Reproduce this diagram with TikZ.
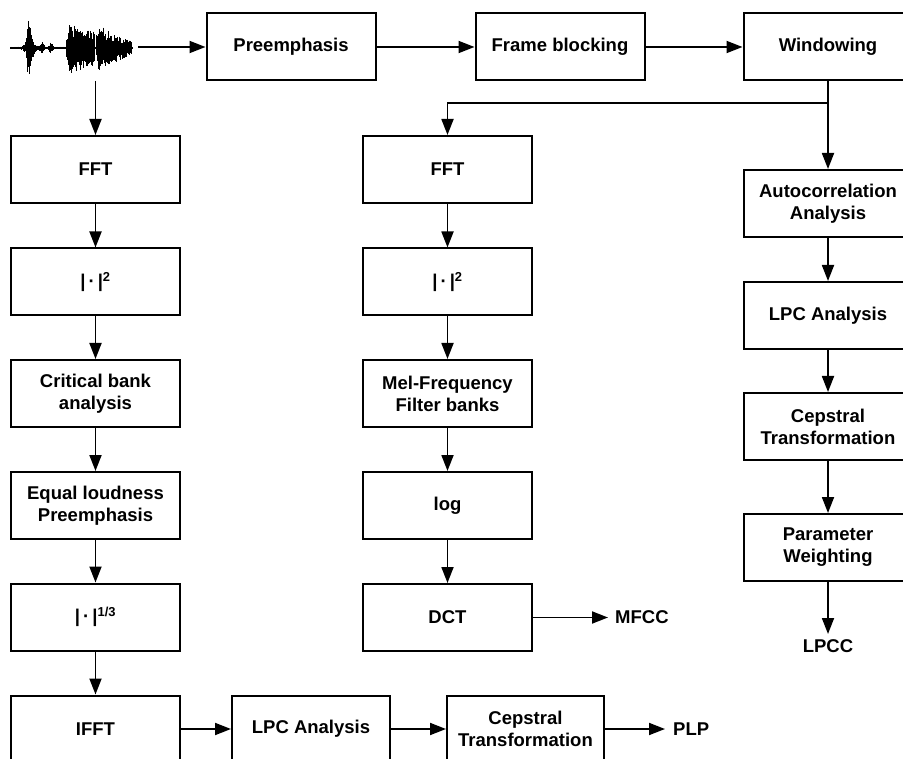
\documentclass[tikz,border=0pt]{standalone}
\usepackage{fontspec}
\setmainfont{Liberation Sans}
\usetikzlibrary{arrows.meta}
\begin{document}
\begin{tikzpicture}[x=1pt,y=-1pt,
  box/.style={draw, line width=2pt, fill=white, minimum width=169pt, minimum height=67pt,
    align=center, inner sep=0pt, font=\fontsize{18.5}{22}\selectfont\bfseries},
  lbl/.style={font=\fontsize{18.5}{22}\selectfont\bfseries, inner sep=0pt},
  flow/.style={line width=1.8pt, -{Triangle[length=16pt,width=12pt]}},
  link/.style={line width=1.8pt}]
\useasboundingbox (0,0) rectangle (903,759);
\clip (0,0) rectangle (903,759);

% speech waveform: three voiced bursts on a quiet baseline
\pgfmathsetseed{11}
\draw[line width=1.5pt] (10,48) -- (133,48);
\foreach \x in {11,11.6,...,132}{
  \pgfmathsetmacro\amp{1.5+24*exp(-min(((\x-29)/1.8)^2,15))+12*exp(-min(((\x-30)/5)^2,15))
    +6*exp(-min(((\x-42)/2)^2,15))+5*exp(-min(((\x-51)/2)^2,15))
    +(\x>66)*(\x<95)*27*(1-exp(-max(\x-66,0)/1.2))*exp(-max(\x-66,0)/60)
    +(\x>96)*(\x<133)*29*(1-exp(-max(\x-96,0)/1.2))*exp(-max(\x-96,0)/24)}
  \pgfmathsetmacro\up{0.9*\amp*(0.45+0.55*rnd)}
  \pgfmathsetmacro\dn{1.0*\amp*(0.45+0.55*rnd)}
  \draw[line width=0.7pt] (\x,48-\up) -- (\x,48+\dn);
}
\coordinate (wavout) at (138,47);
\coordinate (wavdown) at (95.5,81);

% top row
\node[box] (pre) at (291,47) {Preemphasis};
\node[box] (frame) at (560,47) {Frame blocking};
\node[box] (win) at (828,47) {Windowing};

% PLP branch
\node[box] (fftL) at (95.5,169.5) {FFT};
\node[box] (sqL) at (95.5,282) {|\,·\,|\textsuperscript{2}};
\node[box] (crit) at (95.5,393.5) {Critical bank\\analysis};
\node[box] (loud) at (95.5,505.5) {Equal loudness\\Preemphasis};
\node[box] (cube) at (95.5,617) {|\,·\,|\textsuperscript{1/3}};
\node[box] (ifft) at (95.5,729) {IFFT};
\node[box, minimum width=158pt] (lpcB) at (311,729) {LPC Analysis};
\node[box, minimum width=157pt] (cepB) at (525.5,729) {Cepstral\\Transformation};
\node[lbl, anchor=west, inner xsep=8pt] (plp) at (665,729) {PLP};

% MFCC branch
\node[box] (fftM) at (447.5,169.5) {FFT};
\node[box] (sqM) at (447.5,282) {|\,·\,|\textsuperscript{2}};
\node[box] (mel) at (447.5,393.5) {Mel-Frequency\\Filter banks};
\node[box] (log) at (447.5,505.5) {log};
\node[box] (dct) at (447.5,617.5) {DCT};
\node[lbl, anchor=west, inner xsep=7pt] (mfcc) at (608,617.5) {MFCC};

% LPCC branch
\node[box] (auto) at (828,203.5) {Autocorrelation\\Analysis};
\node[box] (lpcR) at (828,315.5) {LPC Analysis};
\node[box] (cepR) at (828,426.5) {Cepstral\\Transformation};
\node[box] (param) at (828,547.5) {Parameter\\Weighting};
\node[lbl, anchor=north, inner ysep=5pt] (lpcc) at (828,634) {LPCC};
\coordinate (br) at (828,103);

% connectors
\draw[flow] (wavout) -- (pre);
\draw[flow] (pre) -- (frame);
\draw[flow] (frame) -- (win);
\draw[flow] (wavdown) -- (fftL);
\draw[flow] (fftL) -- (sqL);
\draw[flow] (sqL) -- (crit);
\draw[flow] (crit) -- (loud);
\draw[flow] (loud) -- (cube);
\draw[flow] (cube) -- (ifft);
\draw[flow] (ifft) -- (lpcB);
\draw[flow] (lpcB) -- (cepB);
\draw[flow] (cepB) -- (plp.west);
\draw[flow] (win) -- (auto);
\draw[flow] (br) -| (fftM);
\draw[flow] (fftM) -- (sqM);
\draw[flow] (sqM) -- (mel);
\draw[flow] (mel) -- (log);
\draw[flow] (log) -- (dct);
\draw[flow] (dct) -- (mfcc.west);
\draw[flow] (auto) -- (lpcR);
\draw[flow] (lpcR) -- (cepR);
\draw[flow] (cepR) -- (param);
\draw[flow] (param) -- (lpcc.north);
\end{tikzpicture}
\end{document}
